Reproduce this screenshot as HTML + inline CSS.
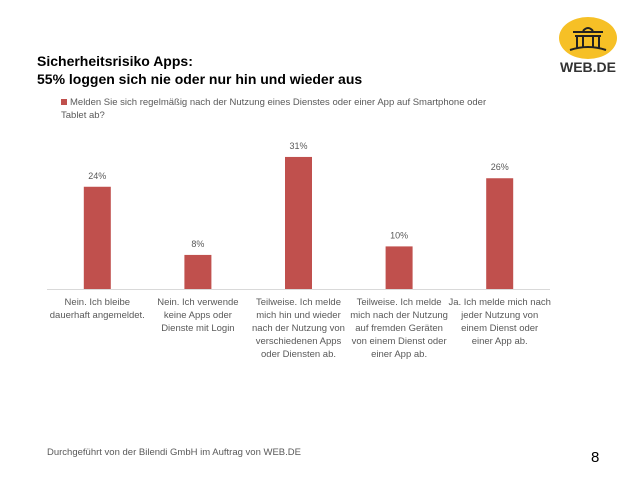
<!DOCTYPE html>
<html><head><meta charset="utf-8"><style>
body{margin:0;width:638px;height:479px;background:#fff;position:relative;overflow:hidden;font-family:"Liberation Sans",sans-serif}
.t{position:absolute;left:37px;font-weight:bold;font-size:14px;color:#000}
.lbl{position:absolute;font-size:9.5px;color:#595959;text-align:center;line-height:13px;width:104px}
</style></head><body>
<div class="t" style="top:52px;line-height:18px">Sicherheitsrisiko Apps:<br>55% loggen sich nie oder nur hin und wieder aus</div>
<div style="position:absolute;left:553px;top:14px;width:70px;height:62px">
<svg width="70" height="62"><ellipse cx="35" cy="24" rx="29" ry="21" fill="#f6c026"/>
<g stroke="#222" stroke-width="2" fill="none"><path d="M17 36 Q35 30 53 36"/><path d="M20 18 L50 18 M22 22 L48 22"/><path d="M24 23 V34 M30 23 V34 M40 23 V34 M46 23 V34"/><path d="M30 17 Q35 11 40 17"/></g>
<text x="35" y="58" text-anchor="middle" font-family="Liberation Sans" font-weight="bold" font-size="14" fill="#333">WEB.DE</text></svg></div>
<div style="position:absolute;left:61px;top:96px;font-size:9.5px;color:#595959;line-height:13px;width:450px">
<span style="display:inline-block;width:6px;height:6px;background:#c0504d;margin-right:3px"></span>Melden Sie sich regelmäßig nach der Nutzung eines Dienstes oder einer App auf Smartphone oder<br>Tablet ab?</div>
<svg id="c" width="638" height="479" style="position:absolute;left:0;top:0"></svg>
<div id="labels"></div>
<div style="position:absolute;left:47px;top:447px;font-size:9.5px;color:#595959">Durchgeführt von der Bilendi GmbH im Auftrag von WEB.DE</div>
<div style="position:absolute;left:591px;top:449px;font-size:15px;color:#000">8</div>
<script>
const categories=["Nein. Ich bleibe dauerhaft angemeldet.","Nein. Ich verwende keine Apps oder Dienste mit Login","Teilweise. Ich melde mich hin und wieder nach der Nutzung von verschiedenen Apps oder Diensten ab.","Teilweise. Ich melde mich nach der Nutzung auf fremden Geräten von einem Dienst oder einer App ab.","Ja. Ich melde mich nach jeder Nutzung von einem Dienst oder einer App ab."];
const values=[24,8,31,10,26];
const labelLines=[["Nein. Ich bleibe","dauerhaft angemeldet."],["Nein. Ich verwende","keine Apps oder","Dienste mit Login"],["Teilweise. Ich melde","mich hin und wieder","nach der Nutzung von","verschiedenen Apps","oder Diensten ab."],["Teilweise. Ich melde","mich nach der Nutzung","auf fremden Geräten","von einem Dienst oder","einer App ab."],["Ja. Ich melde mich nach","jeder Nutzung von","einem Dienst oder","einer App ab."]];
const svg=document.getElementById('c'),NS="http://www.w3.org/2000/svg";
const base=289,x0=47,x1=550,step=(x1-x0)/values.length;
const y=v=>base-v*4.26, xc=i=>x0+step*(i+0.5);
const ax=document.createElementNS(NS,'line');


ax.setAttribute('x1',x0);ax.setAttribute('x2',x1);ax.setAttribute('y1',base+0.5);ax.setAttribute('y2',base+0.5);ax.setAttribute('stroke','#d9d9d9');svg.appendChild(ax);
values.forEach((v,i)=>{
const r=document.createElementNS(NS,'rect');


r.setAttribute('x',xc(i)-13.5);r.setAttribute('width',27);r.setAttribute('y',y(v));r.setAttribute('height',base-y(v));r.setAttribute('fill','#c0504d');svg.appendChild(r);
const t=document.createElementNS(NS,'text');


t.setAttribute('x',xc(i));t.setAttribute('y',y(v)-8);t.setAttribute('text-anchor','middle');t.setAttribute('font-size','9');t.setAttribute('fill','#595959');t.setAttribute('font-family','Liberation Sans');t.textContent=v+'%';svg.appendChild(t);
const d=document.createElement('div');


d.className='lbl';d.style.left=(xc(i)-52)+'px';d.style.top='296px';d.innerHTML=labelLines[i].join('<br>');d.title=categories[i];
document.getElementById('labels').appendChild(d);
});
</script>
</body></html>
